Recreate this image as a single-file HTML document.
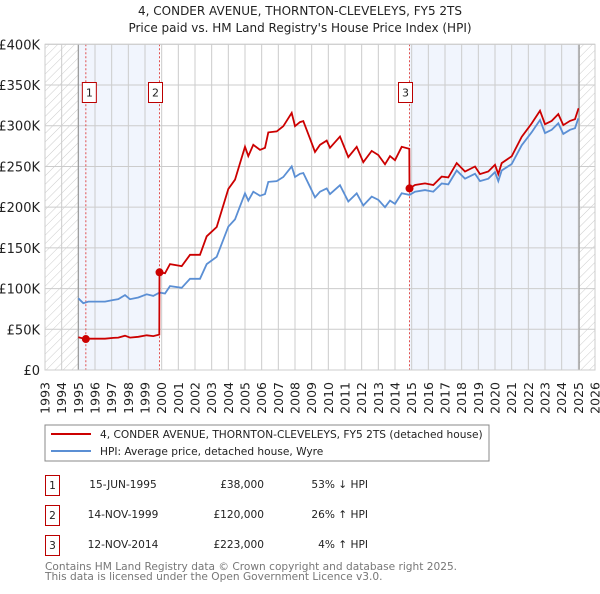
<!DOCTYPE html>
<html><head><meta charset="utf-8"><style>
body{margin:0;background:#fff;width:600px;height:590px;overflow:hidden;font-family:"DejaVu Sans","Liberation Sans",sans-serif;}
svg text{font-family:"DejaVu Sans","Liberation Sans",sans-serif;}
</style></head><body>
<svg id="c" width="600" height="590" viewBox="0 0 600 590">
<defs><pattern id="hatch" width="6" height="6" patternUnits="userSpaceOnUse" patternTransform="rotate(45)"><line x1="0" y1="0" x2="0" y2="6" stroke="#ccc" stroke-width="1"/></pattern></defs>
<text x="300" y="15" text-anchor="middle" font-size="12" fill="#222">4, CONDER AVENUE, THORNTON-CLEVELEYS, FY5 2TS</text>
<text x="300" y="32" text-anchor="middle" font-size="12" fill="#222">Price paid vs. HM Land Registry's House Price Index (HPI)</text>
<g id="plot"></g>
<rect x="45" y="425" width="444" height="36" fill="#fff" stroke="#888"/>
<line x1="51" y1="434" x2="91" y2="434" stroke="#cc0000" stroke-width="2"/>
<text x="100" y="438" font-size="10.6" fill="#222">4, CONDER AVENUE, THORNTON-CLEVELEYS, FY5 2TS (detached house)</text>
<line x1="51" y1="451" x2="91" y2="451" stroke="#5b8fd4" stroke-width="2"/>
<text x="100" y="455" font-size="10.6" fill="#222">HPI: Average price, detached house, Wyre</text>
<g font-size="10.6" fill="#222">
<rect x="45.5" y="475.5" width="14" height="20" fill="#fff" stroke="#b00"/><text x="52.5" y="489" text-anchor="middle">1</text>
<text x="123" y="488" text-anchor="middle">15-JUN-1995</text>
<text x="264" y="488" text-anchor="end">£38,000</text>
<text x="368" y="488" text-anchor="end">53% ↓ HPI</text>
<rect x="45.5" y="505.5" width="14" height="20" fill="#fff" stroke="#b00"/><text x="52.5" y="519" text-anchor="middle">2</text>
<text x="123" y="518" text-anchor="middle">14-NOV-1999</text>
<text x="264" y="518" text-anchor="end">£120,000</text>
<text x="368" y="518" text-anchor="end">26% ↑ HPI</text>
<rect x="45.5" y="535.5" width="14" height="20" fill="#fff" stroke="#b00"/><text x="52.5" y="549" text-anchor="middle">3</text>
<text x="123" y="548" text-anchor="middle">12-NOV-2014</text>
<text x="264" y="548" text-anchor="end">£223,000</text>
<text x="368" y="548" text-anchor="end">4% ↑ HPI</text>
</g>
<text x="45" y="570" font-size="10.6" fill="#777">Contains HM Land Registry data © Crown copyright and database right 2025.</text>
<text x="45" y="580" font-size="10.6" fill="#777">This data is licensed under the Open Government Licence v3.0.</text>
</svg>
<script>
const hpiYears=[1995.0,1995.3,1995.6,1996.1,1996.6,1997.1,1997.4,1997.8,1998.1,1998.6,1999.1,1999.5,1999.87,2000.2,2000.5,2001.2,2001.7,2002.3,2002.7,2003.3,2004.0,2004.4,2004.7,2005.0,2005.2,2005.5,2005.9,2006.2,2006.4,2006.9,2007.3,2007.8,2008.0,2008.3,2008.5,2008.9,2009.2,2009.5,2009.9,2010.1,2010.7,2011.2,2011.7,2012.1,2012.6,2013.0,2013.4,2013.7,2014.0,2014.4,2014.87,2015.2,2015.8,2016.3,2016.8,2017.2,2017.7,2018.2,2018.8,2019.1,2019.6,2020.0,2020.2,2020.4,2021.0,2021.6,2022.2,2022.7,2023.0,2023.4,2023.8,2024.1,2024.5,2024.8,2025.0];
const hpiValues=[88,82,84,84,84,86,87,92,87,89,93,91,95,94,103,101,112,112,130,139,176,185,201,217,208,219,214,216,231,232,237,250,237,241,242,225,212,219,223,216,227,207,217,202,213,209,200,208,204,217,215,219,221,219,229,228,245,235,241,232,235,243,232,245,253,276,292,307,291,295,303,290,295,297,309];
const saleYears=[1995.45,1999.87,2014.87];
const salePrices=[38,120,223];
const yTicks=[0,50,100,150,200,250,300,350,400];
const xTicks=[1993,1994,1995,1996,1997,1998,1999,2000,2001,2002,2003,2004,2005,2006,2007,2008,2009,2010,2011,2012,2013,2014,2015,2016,2017,2018,2019,2020,2021,2022,2023,2024,2025,2026];
const dataStart=1995.0, dataEnd=2025.05;
const X0=45,X1=595,Y0=370,Y1=44.3;
const xs=y=>X0+(y-1993)/(2026-1993)*(X1-X0);
const ys=v=>Y0-v/400*(Y0-Y1);
const NS="http://www.w3.org/2000/svg";
const g=document.getElementById('plot');
function el(t,a){const e=document.createElementNS(NS,t);for(const k in a)e.setAttribute(k,a[k]);g.appendChild(e);return e;}
function hpiAt(t){if(t<=hpiYears[0])return hpiValues[0];for(let i=1;i<hpiYears.length;i++){if(t<=hpiYears[i]){const f=(t-hpiYears[i-1])/(hpiYears[i]-hpiYears[i-1]);return hpiValues[i-1]+f*(hpiValues[i]-hpiValues[i-1]);}}return hpiValues[hpiValues.length-1];}
let e;
e=el('rect',{x:X0,y:Y1,width:X1-X0,height:Y0-Y1,fill:'#fff'});


e=el('rect',{x:X0,y:Y1,width:xs(dataStart)-X0,height:Y0-Y1,fill:'url(#hatch)'});


e=el('rect',{x:xs(dataEnd),y:Y1,width:X1-xs(dataEnd),height:Y0-Y1,fill:'url(#hatch)'});


e=el('rect',{x:xs(dataStart),y:Y1,width:xs(saleYears[1])-xs(dataStart),height:Y0-Y1,fill:'#eef3fc',opacity:0.8});


e=el('rect',{x:xs(saleYears[2]),y:Y1,width:xs(dataEnd)-xs(saleYears[2]),height:Y0-Y1,fill:'#eef3fc',opacity:0.8});


yTicks.forEach(v=>{
 e=el('line',{x1:X0,x2:X1,y1:ys(v),y2:ys(v),stroke:'#ccc','stroke-width':1});
 
 
 e=el('text',{x:40,y:ys(v)+5,'text-anchor':'end','font-size':13,fill:'#222'});
 e.textContent=v===0?'£0':'£'+v+'K';
 
 
});
xTicks.forEach(t=>{
 e=el('line',{x1:xs(t),x2:xs(t),y1:Y1,y2:Y0,stroke:'#ccc','stroke-width':1});
 
 
 e=el('text',{x:0,y:0,'text-anchor':'end','font-size':12.5,fill:'#222',transform:`translate(${xs(t)+4.5},382) rotate(-90)`});
 e.textContent=t;
 
 
});
[dataStart,dataEnd].forEach(t=>{
 e=el('line',{x1:xs(t),x2:xs(t),y1:Y1,y2:Y0,stroke:'#999','stroke-width':1.2});
 
 
});
saleYears.forEach((t,i)=>{
 e=el('line',{x1:xs(t),x2:xs(t),y1:Y1,y2:Y0,stroke:'#e05050','stroke-width':1,'stroke-dasharray':'2,2'});
 
 
});
let d=hpiYears.map((t,i)=>(i?'L':'M')+xs(t).toFixed(1)+','+ys(hpiValues[i]).toFixed(1)).join('');
e=el('path',{d:d,fill:'none',stroke:'#5b8fd4','stroke-width':1.8});


let pts=[];
for(let s=0;s<saleYears.length;s++){
 const st=saleYears[s],en=s+1<saleYears.length?saleYears[s+1]:dataEnd,k=salePrices[s]/hpiAt(st);
 if(s===0) pts.push([dataStart,hpiAt(dataStart)*k]);
 pts.push([st,salePrices[s]]);
 hpiYears.forEach((t,i)=>{if(t>st&&t<en)pts.push([t,hpiValues[i]*k]);});
 pts.push([en-0.01,hpiAt(en-0.01)*k]);
}
d=pts.map((p,i)=>(i?'L':'M')+xs(p[0]).toFixed(1)+','+ys(p[1]).toFixed(1)).join('');
e=el('path',{d:d,fill:'none',stroke:'#cc0000','stroke-width':1.8});


saleYears.forEach((t,i)=>{
 e=el('circle',{cx:xs(t),cy:ys(salePrices[i]),r:4,fill:'#cc0000'});
 
 
 const bx=xs(t)-(i===2?4:i===1?4:-3.5);
 e=el('rect',{x:bx-7,y:82.5,width:14,height:20,fill:'#fff',stroke:'#b00'});
 
 
 e=el('text',{x:bx,y:96.5,'text-anchor':'middle','font-size':11,fill:'#222'});
 e.textContent=String(i+1);
 
 
});
e=el('rect',{x:X0,y:Y1,width:X1-X0,height:Y0-Y1,fill:'none',stroke:'#ccc'});


</script>
</body></html>
